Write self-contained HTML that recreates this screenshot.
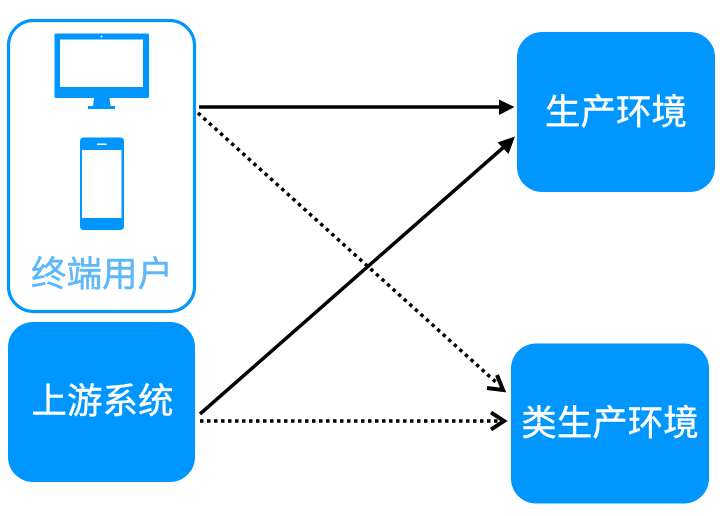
<!DOCTYPE html>
<html><head><meta charset="utf-8"><style>
html,body{margin:0;padding:0;background:#fff;width:720px;height:516px;overflow:hidden}
svg{display:block}
text{font-family:"Liberation Sans","Noto Sans CJK SC",sans-serif;font-size:35.5px;text-anchor:middle;fill:#fff;stroke:#fff;stroke-width:.45px}
</style></head><body>
<svg width="720" height="516" viewBox="0 0 720 516" xmlns="http://www.w3.org/2000/svg">
<rect x="8.5" y="20.5" width="186" height="291" rx="25" fill="#fff" stroke="#0096ff" stroke-width="3.2"/>
<rect x="54.5" y="33.5" width="94.5" height="64.5" rx="1.5" fill="#0096ff"/>
<rect x="60" y="39.5" width="83" height="47.5" fill="#fff"/>
<circle cx="101.5" cy="36.5" r="1" fill="#fff"/>
<path d="M94 98H109.5L110.5 106H115V109H88V106H93Z" fill="#0096ff"/>
<rect x="80" y="137.5" width="44" height="92.5" rx="3.5" fill="#0096ff"/>
<rect x="82" y="150" width="39.5" height="68" fill="#fff"/>
<rect x="97" y="143.5" width="9.5" height="1.5" fill="#fff"/>
<text x="102" y="286" style="fill:#5cb8fb;stroke:#5cb8fb">终端用户</text>
<rect x="8" y="322" width="187" height="160" rx="25" fill="#0096ff"/>
<rect x="517" y="32" width="198" height="160" rx="25" fill="#0096ff"/>
<rect x="511" y="343.5" width="198" height="160" rx="25" fill="#0096ff"/>
<text x="102.500" y="413">上游系统</text>
<text x="616" y="124">生产环境</text>
<text x="610" y="435">类生产环境</text>
<g stroke="#000" stroke-width="3.5" fill="none">
<line x1="199" y1="107" x2="503" y2="107"/>
<line x1="200" y1="414" x2="505" y2="146"/>
<line x1="198" y1="113" x2="498" y2="384" stroke-dasharray="3.500 4"/>
<line x1="200" y1="421" x2="500" y2="421" stroke-dasharray="3.500 3.500"/>
<path d="M491 412.500L504 421L491 429.500" stroke-width="4"/>
<path d="M497 375L503 390L487 388" stroke-width="4"/>
</g>
<path d="M514.500 107L499 99.500V115Z" fill="#000"/>
<path d="M515 136.500L508.500 154L497.500 142.500Z" fill="#000"/>
</svg>
</body></html>
